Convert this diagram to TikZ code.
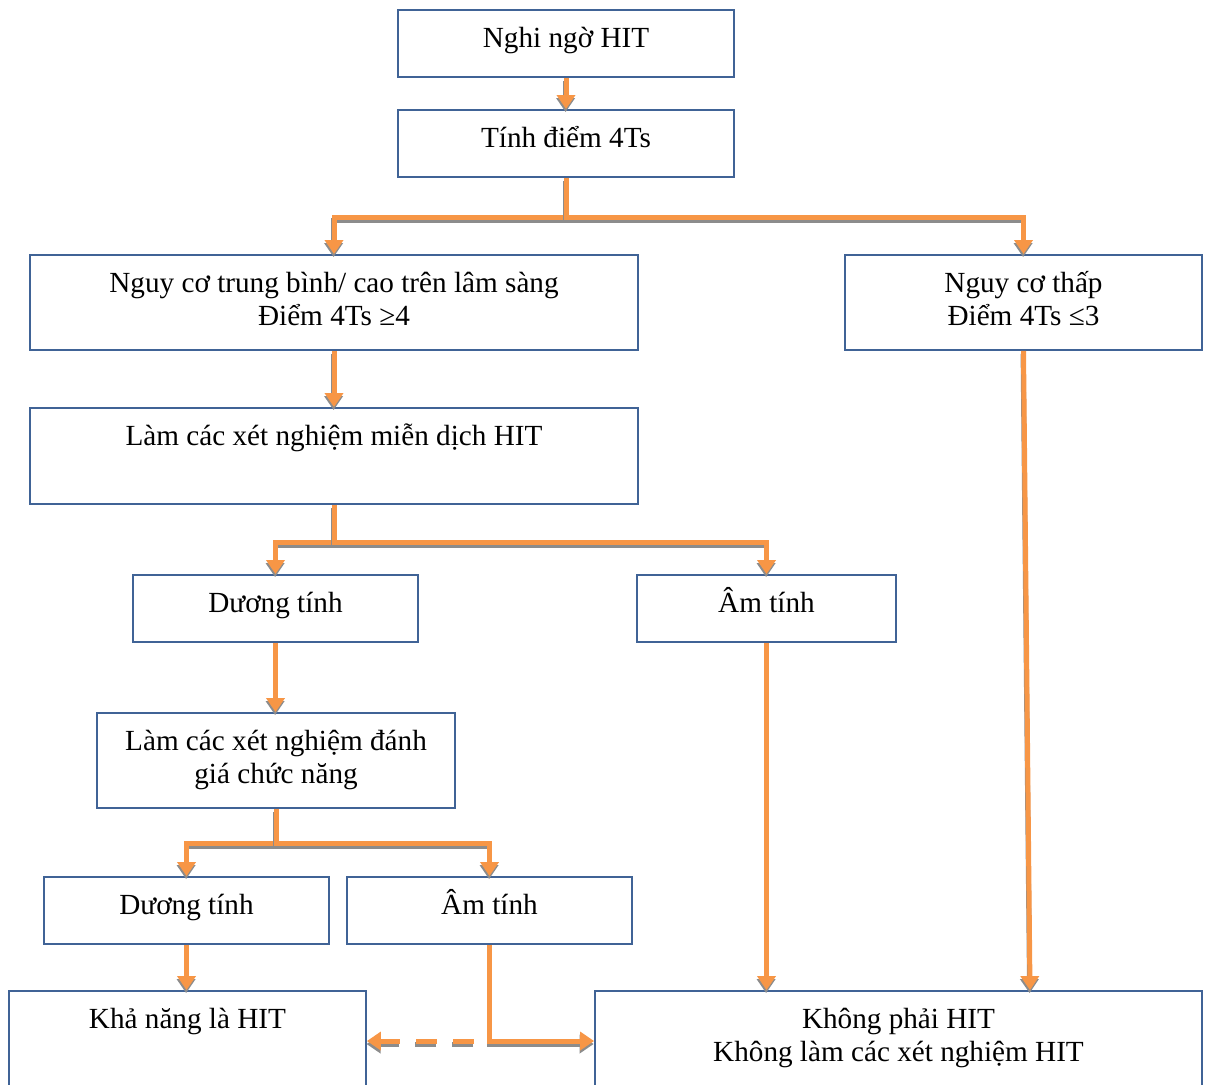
\documentclass[tikz,border=0pt]{standalone}
\usepackage{fontspec}
\setmainfont{Liberation Serif}
\usetikzlibrary{arrows.meta, calc, positioning}

\definecolor{boxblue}{RGB}{64,99,150}
\definecolor{linkorange}{RGB}{247,150,70}
\definecolor{shadowgray}{RGB}{140,140,140}

% text of a box: top aligned, fixed size
\newcommand{\boxtxt}[3]{\parbox[c][#2][t]{#1}{\centering\vspace*{4.5pt}\rule{0pt}{14pt}#3}}

\begin{document}
\begin{tikzpicture}[x=0.5pt, y=-0.5pt,
    flowbox/.style={draw=boxblue, line width=0.9pt, inner sep=0pt, font=\fontsize{14.6}{16.7}\selectfont},
    linkbase/.style={draw=linkorange, line width=2.5pt, -{Triangle[width=9pt,length=7pt]}},
    conn/.style={linkbase,
      preaction={draw=shadowgray, line width=2.5pt, transform canvas={shift={(-0.2pt,-1.5pt)}}}},
    dashconn/.style={linkbase, dash pattern=on 10.5pt off 8pt, dash phase=10.5pt,
      preaction={draw=shadowgray, line width=2.5pt, dash pattern=on 10.5pt off 8pt, dash phase=10.5pt,
        transform canvas={shift={(-0.2pt,-1.5pt)}}}}]
    \clip (0,0) rectangle (1205,1084);

    \node[flowbox] (suspect) at (566,43.5) {\boxtxt{168pt}{33.5pt}{Nghi ngờ HIT}};
    \node[flowbox] (score) at (566,143.5) {\boxtxt{168pt}{33.5pt}{Tính điểm 4Ts}};
    \node[flowbox] (high) at (334,302.5) {\boxtxt{304pt}{47.5pt}{Nguy cơ trung bình/ cao trên lâm sàng\\Điểm 4Ts ≥4}};
    \node[flowbox] (low) at (1023.5,302.5) {\boxtxt{178.5pt}{47.5pt}{Nguy cơ thấp\\Điểm 4Ts ≤3}};
    \node[flowbox] (immuno) at (334,456) {\boxtxt{304pt}{48pt}{Làm các xét nghiệm miễn dịch HIT}};
    \node[flowbox] (posimm) at (275.5,608.5) {\boxtxt{142.5pt}{33.5pt}{Dương tính}};
    \node[flowbox] (negimm) at (766.5,608.5) {\boxtxt{129.5pt}{33.5pt}{Âm tính}};
    \node[flowbox] (func) at (276,760.5) {\boxtxt{179pt}{47.5pt}{Làm các xét nghiệm đánh\\giá chức năng}};
    \node[flowbox] (posfunc) at (186.5,910.5) {\boxtxt{142.5pt}{33.5pt}{Dương tính}};
    \node[flowbox] (negfunc) at (489.5,910.5) {\boxtxt{142.5pt}{33.5pt}{Âm tính}};
    \node[flowbox] (likely) at (187.5,1041) {\boxtxt{178.5pt}{50pt}{Khả năng là HIT}};
    \node[flowbox] (nothit) at (898.5,1041) {\boxtxt{303.5pt}{50pt}{Không phải HIT\\Không làm các xét nghiệm HIT}};

    \draw[conn] (suspect) -- (score);
    \draw[conn] (score.south) -- ++(0,40) -| (high.north);
    \draw[conn] (score.south) -- ++(0,40) -| (low.north);
    \draw[conn] (high) -- (immuno);
    \draw[conn] (immuno.south) -- ++(0,38) -| (posimm.north);
    \draw[conn] (immuno.south) -- ++(0,38) -| (negimm.north);
    \draw[conn] (posimm.south) -- (posimm.south |- func.north);
    \draw[conn] (func.south) -- ++(0,35) -| (posfunc.north);
    \draw[conn] (func.south) -- ++(0,35) -| (negfunc.north);
    \draw[conn] (posfunc.south) -- (posfunc.south |- likely.north);
    \draw[conn] (negfunc.south) -- (negfunc.south |- nothit.west) -- (nothit.west);
    \draw[dashconn] (negfunc.south |- likely.east) -- (likely.east);
    \draw[conn] (negimm.south) -- (negimm.south |- nothit.north);
    \draw[conn] (low.south) -- ($(nothit.north)+(131.5,0)$);
\end{tikzpicture}
\end{document}
